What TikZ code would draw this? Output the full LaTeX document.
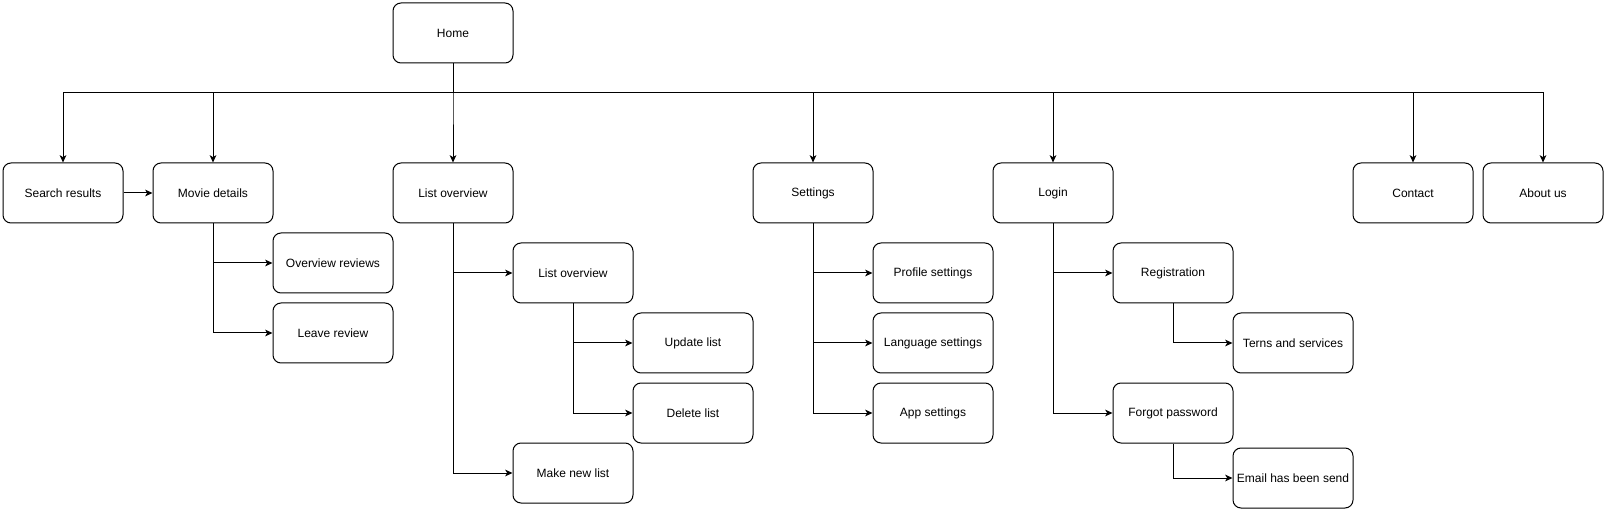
\documentclass[tikz,border=0pt]{standalone}
\usepackage{fontspec}
\setmainfont{Liberation Sans}
\usetikzlibrary{arrows.meta,positioning}
\tikzset{
    page/.style={rectangle, draw, line width=0.75pt, rounded corners=6pt, align=center,
        minimum width=90pt, minimum height=45pt, inner sep=1pt, font=\fontsize{9}{11}\selectfont},
    link/.style={->, draw, line width=0.75pt}
}

\begin{document}
\begin{tikzpicture}[x=0.75pt, y=-0.75pt, >={Stealth[length=5.5pt,width=5pt,inset=1.5pt]}, line width=0.75pt]
	\useasboundingbox (0,0) rectangle (1607,513);
	\begin{scope}[every node/.style={page}]
		% top level
		\node (home) at (453,33) {Home};
		\node (search) at (63,193) {Search results};
		\node (movie) at (213,193) {Movie details};
		\node (lists) at (453,193) {List overview};
		\node (settings) at (813,193) {Settings};
		\node (login) at (1053,193) {Login};
		\node (contact) at (1413,193) {Contact};
		\node (about) at (1543,193) {About us};
		% movie details
		\node (reviews) at (333,263) {Overview reviews};
		\node (leave) at (333,333) {Leave review};
		% lists
		\node (listov) at (573,273) {List overview};
		\node (update) at (693,343) {Update list};
		\node (delete) at (693,413) {Delete list};
		\node (newlist) at (573,473) {Make new list};
		% settings
		\node (profile) at (933,273) {Profile settings};
		\node (language) at (933,343) {Language settings};
		\node (app) at (933,413) {App settings};
		% login
		\node (register) at (1173,273) {Registration};
		\node (terms) at (1293,343) {Terns and services};
		\node (forgot) at (1173,413) {Forgot password};
		\node (email) at (1293,478) {Email has been send};
	\end{scope}
	\coordinate (bus) at (453,93);
	\foreach \t in {search,movie,lists,settings,login,contact,about}
		\draw[link] (home.south) -- (bus) -| (\t.north);
	\draw[link] (search.east) -- (movie.west);
	\foreach \p/\c in {movie/reviews, movie/leave, lists/listov, lists/newlist,
		listov/update, listov/delete, settings/profile, settings/language,
		settings/app, login/register, login/forgot, register/terms, forgot/email}
		\draw[link] (\p.south) |- (\c.west);
\end{tikzpicture}
\end{document}
